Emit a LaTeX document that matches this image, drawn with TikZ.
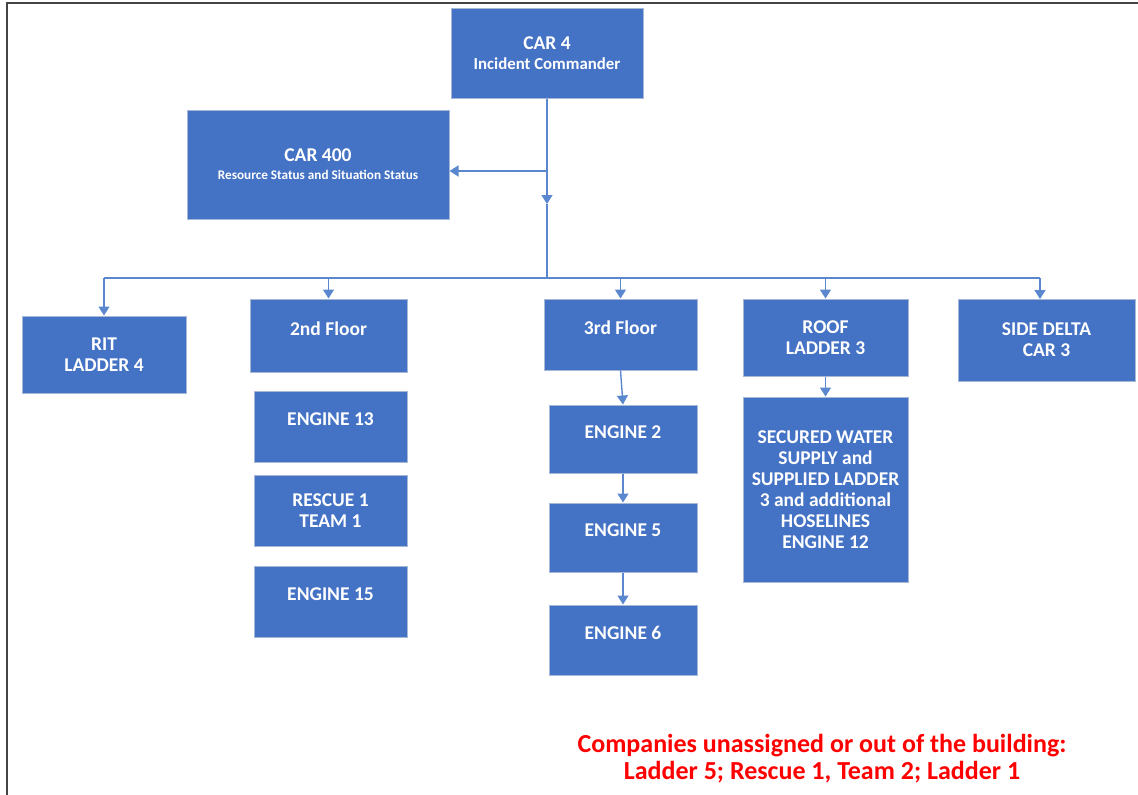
\documentclass[tikz,border=0pt]{standalone}
\usepackage{fontspec}
\setmainfont{Carlito}
\usetikzlibrary{arrows.meta,calc}

\definecolor{boxblue}{HTML}{4472C4}
\definecolor{rimblue}{HTML}{A7B7D6}
\definecolor{linkblue}{HTML}{5B87CF}
\definecolor{notered}{HTML}{FF0000}
\definecolor{framegrey}{HTML}{444444}

\begin{document}
\begin{tikzpicture}[x=1pt,y=-1pt,
	unit/.style={draw=rimblue, line width=1pt, fill=boxblue, text=white, inner sep=0pt,
		align=center, font=\bfseries\fontsize{19.5}{21}\selectfont},
	raised/.style={text depth=14pt},
	conn/.style={draw=linkblue, line width=1.4pt},
	tip/.style={-{Triangle[width=11pt,length=9pt]}},
	note/.style={text=notered, align=center, font=\bfseries\fontsize{26}{27}\selectfont}]
	\useasboundingbox (0,0) rectangle (1138,795);
	\draw[framegrey, line width=2pt] (7,795) -- (7,3) -- (1138,3);

	% command and staff
	\node[unit, minimum width=192pt, minimum height=90pt] (car4) at (547,53) {CAR 4\\[-1pt]{\fontsize{16.8}{19}\selectfont Incident Commander}};
	\node[unit, minimum width=262pt, minimum height=109pt] (car400) at (318,164.5) {CAR 400\\[-3pt]{\fontsize{13.2}{18}\selectfont Resource Status and Situation Status}};

	% divisions
	\node[unit, minimum width=164pt, minimum height=77pt] (rit) at (104,354.5) {RIT\\LADDER 4};
	\node[unit, raised, minimum width=157pt, minimum height=73pt] (fl2) at (328.5,335.5) {2nd Floor};
	\node[unit, raised, minimum width=153pt, minimum height=71pt] (fl3) at (620.5,334.5) {3rd Floor};
	\node[unit, minimum width=165pt, minimum height=77pt] (roof) at (825.5,337.5) {ROOF\\LADDER 3};
	\node[unit, minimum width=177pt, minimum height=82pt] (delta) at (1046.5,340) {SIDE DELTA\\CAR 3};

	% companies
	\node[unit, raised, minimum width=153pt, minimum height=71pt] (eng13) at (330.5,426.5) {ENGINE 13};
	\node[unit, minimum width=153pt, minimum height=71pt] (res1) at (330.5,510.5) {RESCUE 1\\TEAM 1};
	\node[unit, raised, minimum width=153pt, minimum height=71pt] (eng15) at (330.5,601.5) {ENGINE 15};
	\node[unit, raised, minimum width=148pt, minimum height=68pt] (eng2) at (623,439) {ENGINE 2};
	\node[unit, raised, minimum width=148pt, minimum height=69pt] (eng5) at (623,537.5) {ENGINE 5};
	\node[unit, raised, minimum width=148pt, minimum height=70pt] (eng6) at (623,640) {ENGINE 6};
	\node[unit, minimum width=165pt, minimum height=185pt] (water) at (825.5,489.5) {SECURED WATER\\SUPPLY and\\SUPPLIED LADDER\\3 and additional\\HOSELINES\\ENGINE 12};

	\node[note] (unassigned) at (822,759) {Companies unassigned or out of the building:\\Ladder 5; Rescue 1, Team 2; Ladder 1};

	% trunk and bus
	\coordinate (split) at (547,171);
	\coordinate (down) at (547,204);
	\coordinate (bus) at (547,278);
	\coordinate (deltadrop) at (1040,299);
	\draw[conn, tip] (car4.south) -- (down);
	\draw[conn] (down) -- (bus);
	\draw[conn, tip] (split) -- (split -| car400.east);
	\draw[conn] (bus -| rit) -- (bus -| deltadrop);
	\foreach \n in {rit,fl2,fl3,roof}
		\draw[conn, tip] (bus -| \n.north) -- (\n.north);
	\draw[conn, tip] (bus -| deltadrop) -- (deltadrop);

	% chains
	\draw[conn, tip] (fl3.south) -- (eng2.north);
	\draw[conn, tip] (eng2.south) -- (eng5.north);
	\draw[conn, tip] (eng5.south) -- (eng6.north);
	\draw[conn, tip] (roof.south) -- (water.north);
\end{tikzpicture}
\end{document}
